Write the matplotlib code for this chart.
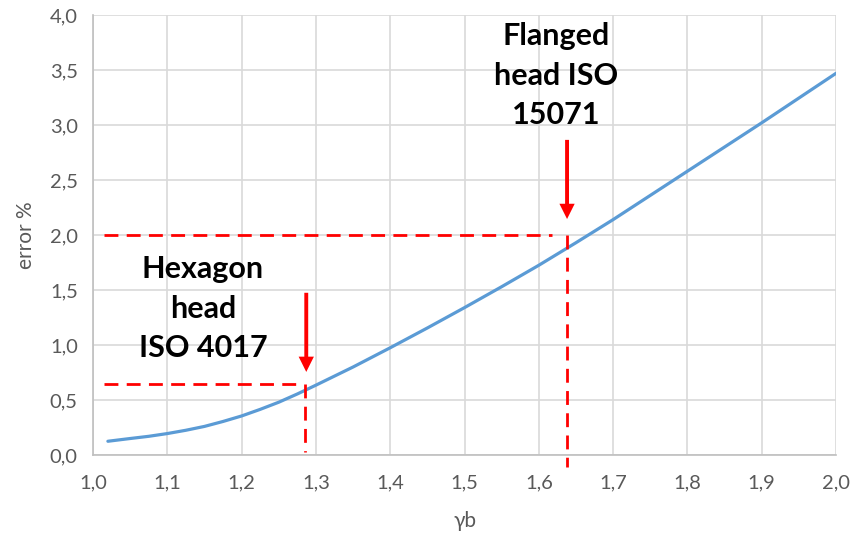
import matplotlib
matplotlib.use("Agg")
import matplotlib.pyplot as plt

# Curve: error % versus gamma_b
gamma_b = [1.02, 1.05, 1.075, 1.10, 1.125, 1.15, 1.175, 1.20, 1.225, 1.25, 1.275,
           1.30, 1.35, 1.40, 1.45, 1.50, 1.55, 1.60, 1.65, 1.70, 1.75, 1.80,
           1.85, 1.90, 1.95, 2.00]
error_pct = [0.125, 0.15, 0.17, 0.195, 0.225, 0.26, 0.305, 0.355, 0.415, 0.48, 0.555,
             0.635, 0.80, 0.975, 1.155, 1.34, 1.53, 1.725, 1.93, 2.14, 2.36, 2.58,
             2.80, 3.02, 3.245, 3.47]

# Reference points for the two head types
hex_x, hex_y = 1.285, 0.65
flange_x, flange_y = 1.638, 2.0

x_ticks = [1.0, 1.1, 1.2, 1.3, 1.4, 1.5, 1.6, 1.7, 1.8, 1.9, 2.0]
y_ticks = [0.0, 0.5, 1.0, 1.5, 2.0, 2.5, 3.0, 3.5, 4.0]

def comma(v):
    return f"{v:.1f}".replace(".", ",")

plt.rcParams['font.family'] = ['Lato', 'DejaVu Sans']

fig = plt.figure(figsize=(8.55, 5.36), dpi=100)
ax = fig.add_axes([0.1088, 0.1511, 0.869, 0.8209])

ax.set_xlim(1.0, 2.0)
ax.set_ylim(0.0, 4.0)
ax.set_xticks(x_ticks)
ax.set_yticks(y_ticks)
ax.set_xticklabels([comma(v) for v in x_ticks])
ax.set_yticklabels([comma(v) for v in y_ticks])
ax.tick_params(length=0, labelsize=14.5, colors="#595959")
ax.tick_params(axis="y", pad=11)
ax.tick_params(axis="x", pad=14)
ax.grid(True, color="#D9D9D9", linewidth=1.2)
ax.set_axisbelow(True)
for side in ("top", "right"):
    ax.spines[side].set_visible(False)
for side in ("left", "bottom"):
    ax.spines[side].set_color("#BFBFBF")
    ax.spines[side].set_linewidth(1.2)

ax.plot(gamma_b, error_pct, color="#5B9BD5", linewidth=2.3, zorder=3,
        solid_capstyle="round", solid_joinstyle="round")

red = "#FF0000"
dash = dict(color=red, linewidth=2.0, dashes=(5, 3), zorder=4, clip_on=False)
ax.plot([1.015, flange_x - 0.02], [flange_y, flange_y], **dash)
ax.plot([flange_x, flange_x], [flange_y, -0.11], **dash)
ax.plot([1.015, hex_x - 0.01], [hex_y, hex_y], **dash)
ax.plot([hex_x, hex_x], [hex_y, 0.03], **dash)

arrow = dict(arrowstyle="simple,head_length=1.1,head_width=1.1,tail_width=0.28",
             color=red, lw=0)
ax.annotate("", xy=(flange_x, 2.12), xytext=(flange_x, 2.89),
            arrowprops=arrow, zorder=5)
ax.annotate("", xy=(hex_x + 0.002, 0.73), xytext=(hex_x + 0.002, 1.50),
            arrowprops=arrow, zorder=5)

label_font = dict(fontsize=22, fontweight="bold",
                  color="black", ha="center", va="center", linespacing=1.5)
ax.text(1.623, 3.45, "Flanged\nhead ISO\n15071", **label_font)
ax.text(1.148, 1.33, "Hexagon\nhead\nISO 4017", **label_font)

ax.set_ylabel("error %", fontsize=15, color="#595959", labelpad=10)
ax.set_xlabel("γb", fontsize=15, color="#595959", labelpad=14)

fig.savefig("out.png", dpi=100)
